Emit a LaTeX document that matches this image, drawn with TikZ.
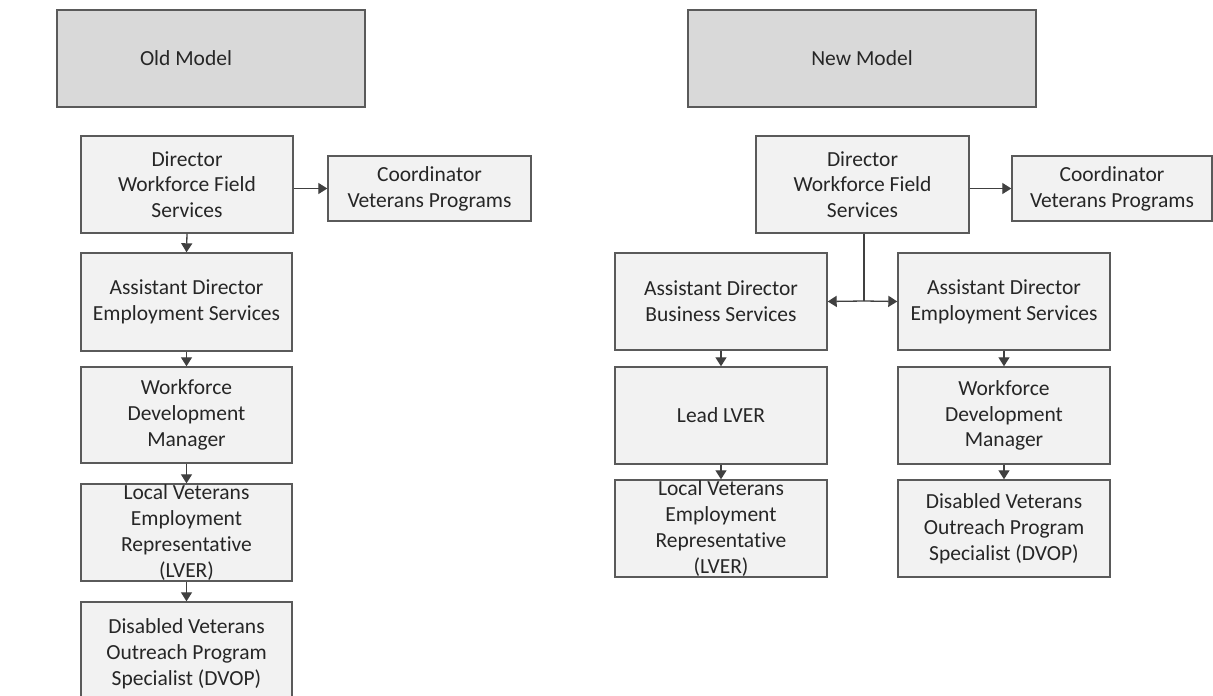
\documentclass[tikz,border=0pt]{standalone}
\usepackage{fontspec}
\setmainfont{Carlito}[Ligatures={NoCommon,NoContextual}]
\usetikzlibrary{arrows.meta}
\definecolor{boxfill}{HTML}{F2F2F2}
\definecolor{hdrfill}{HTML}{D9D9D9}
\definecolor{boxline}{HTML}{5A5A5A}
\definecolor{arrline}{HTML}{404040}
\definecolor{txtcol}{HTML}{262626}
\tikzset{
  orgbox/.style={draw=boxline, line width=1.4bp, fill=boxfill, text=txtcol,
    align=center, inner sep=0pt, font=\fontsize{21.5bp}{25.8bp}\selectfont},
  hdrbox/.style={orgbox, fill=hdrfill},
  hdrtext/.style={text=txtcol, inner sep=0pt, font=\fontsize{21.5bp}{25.8bp}\selectfont},
  conn/.style={draw=arrline, line width=1.3bp, -{Triangle[width=11bp,length=9bp]}},
  trunk/.style={draw=arrline, line width=2.4bp}
}
\begin{document}
\begin{tikzpicture}[x=1bp, y=-1bp]
\useasboundingbox (0,0) rectangle (1213,696);
\fill[white] (0,0) rectangle (1213,696);

% ---------- Old model ----------
\node[hdrbox, minimum width=308bp, minimum height=97bp] (oldhdr) at (211,58.5) {};
\node[hdrtext] (oldhdrtxt) at (186,58.5) {Old Model};

\node[orgbox, minimum width=212bp, minimum height=97bp] (odir) at (187,184.5)
  {Director\\Workforce Field\\Services};
\node[orgbox, minimum width=203bp, minimum height=65bp] (ocoord) at (429.5,188.5)
  {Coordinator\\Veterans Programs};
\node[orgbox, minimum width=211bp, minimum height=98bp] (oad) at (186.5,302)
  {Assistant Director\\Employment Services};
\node[orgbox, minimum width=211bp, minimum height=96bp] (owdm) at (186.5,415)
  {Workforce\\Development\\Manager};
\node[orgbox, minimum width=211bp, minimum height=97bp] (olver) at (186.5,532.5)
  {Local Veterans\\Employment\\Representative\\(LVER)};
\node[orgbox, minimum width=211bp, minimum height=104bp] (odvop) at (186.5,654)
  {Disabled Veterans\\Outreach Program\\Specialist (DVOP)};

\draw[conn] (ocoord.west -| odir.east) -- (ocoord.west);
\draw[conn] (odir.south) -- (oad.north);
\draw[conn] (oad.south) -- (owdm.north);
\draw[conn] (owdm.south) -- (olver.north);
\draw[conn] (olver.south) -- (odvop.north);

% ---------- New model ----------
\node[hdrbox, minimum width=348bp, minimum height=97bp] (newhdr) at (862,58.5) {New Model};

\node[orgbox, minimum width=213bp, minimum height=97bp] (ndir) at (862.5,184.5)
  {Director\\Workforce Field\\Services};
\node[orgbox, minimum width=200bp, minimum height=65bp] (ncoord) at (1112,188.5)
  {Coordinator\\Veterans Programs};
\node[orgbox, minimum width=212bp, minimum height=97bp] (nadb) at (721,301.5)
  {Assistant Director\\Business Services};
\node[orgbox, minimum width=212bp, minimum height=97bp] (nade) at (1004,301.5)
  {Assistant Director\\Employment Services};
\node[orgbox, minimum width=212bp, minimum height=97bp] (nlead) at (721,415.5)
  {Lead LVER};
\node[orgbox, minimum width=212bp, minimum height=97bp] (nwdm) at (1004,415.5)
  {Workforce\\Development\\Manager};
\node[orgbox, minimum width=212bp, minimum height=97bp] (nlver) at (721,528.5)
  {Local Veterans\\Employment\\Representative\\(LVER)};
\node[orgbox, minimum width=212bp, minimum height=97bp] (ndvop) at (1004,528.5)
  {Disabled Veterans\\Outreach Program\\Specialist (DVOP)};

\coordinate (split) at (864,301);
\draw[conn] (ncoord.west -| ndir.east) -- (ncoord.west);
\draw[trunk] (ndir.south -| split) -- (split);
\draw[conn] (split) -- (nadb.east);
\draw[conn] (split) -- (nade.west);
\draw[conn] (nadb.south) -- (nlead.north);
\draw[conn] (nade.south) -- (nwdm.north);
\draw[conn] (nlead.south) -- (nlver.north);
\draw[conn] (nwdm.south) -- (ndvop.north);
\end{tikzpicture}
\end{document}
